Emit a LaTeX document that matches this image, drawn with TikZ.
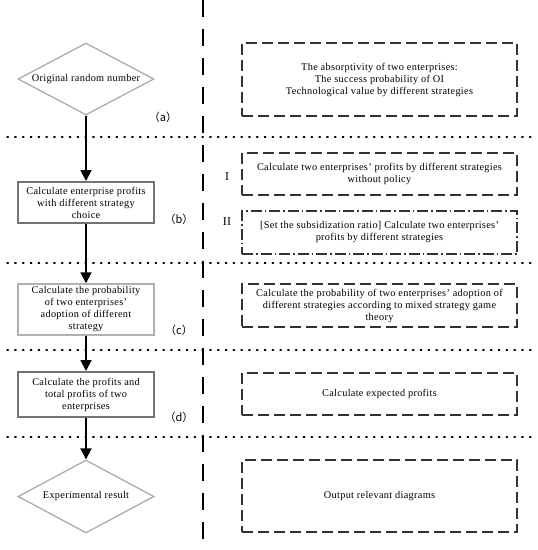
\documentclass[tikz,border=0pt]{standalone}
\usepackage{fontspec}
\setmainfont{Liberation Serif}[LetterSpace=3]
\newfontfamily\cjkf{Noto Sans CJK SC}
\usetikzlibrary{shapes.geometric,arrows.meta}
\tikzset{
  diam/.style={diamond, draw=gray!65, line width=1.3pt, minimum width=136, minimum height=72, aspect=1.9, inner sep=0pt, align=center},
  thickbox/.style={rectangle, draw=black!55, line width=2pt, minimum width=136, inner sep=1pt, align=center},
  thinbox/.style={rectangle, draw=gray!60, line width=1.5pt, minimum width=136, inner sep=1pt, align=center},
  rbox/.style={rectangle, draw=black!80, line width=1.1pt, dash pattern=on 11pt off 5pt, minimum width=275, inner sep=1pt, align=center},
  rboxdd/.style={rectangle, draw=black!80, line width=1.1pt, dash pattern=on 11pt off 3pt on 1.5pt off 3pt, minimum width=275, inner sep=1pt, align=center},
  sep/.style={line width=1.3pt, dash pattern=on 1.3pt off 6.5pt, line cap=round},
  vsep/.style={line width=1.6pt, dash pattern=on 17pt off 12pt},
  flow/.style={line width=1.8pt, -{Triangle[width=11pt,length=11pt]}},
  lab/.style={font=\cjkf\fontsize{11}{12}\selectfont, inner sep=0pt},
  roman/.style={font=\fontsize{12}{14}\selectfont, inner sep=0pt}
}
\begin{document}
\begin{tikzpicture}[x=1pt,y=-1pt,font=\fontsize{10.3}{12}\selectfont]
\useasboundingbox (0,0) rectangle (538,550);

% separators
\coordinate (v1) at (203,0);
\coordinate (v2) at (203,545);
\draw[vsep] (v1) -- (v2);
\foreach \yy/\nm in {137/s1,263/s2,350/s3,437/s4}{
  \coordinate (\nm l) at (7,\yy);
  \coordinate (\nm r) at (533,\yy);
  \draw[sep] (\nm l) -- (\nm r);
}

% left flow
\node[diam] (n1) at (86,79) {Original random number};
\node[thickbox, minimum height=41] (n2) at (86,202.5) {Calculate enterprise profits\\with different strategy\\choice};
\node[thinbox, minimum height=51] (n3) at (86,309.5) {Calculate the probability\\of two enterprises'\\adoption of different\\strategy};
\node[thickbox, minimum height=45] (n4) at (86,394.5) {Calculate the profits and\\total profits of two\\enterprises};
\node[diam, minimum height=73] (n5) at (86,496.5) {Experimental result};

\draw[flow] (n1.south) -- (n2.north);
\draw[flow] (n2.south) -- (n3.north);
\draw[flow] (n3.south) -- (n4.north);
\draw[flow] (n4.south) -- (n5.north);

% labels
\node[lab] (la) at (163,117) {（a）};
\node[lab] (lb) at (179,219) {（b）};
\node[lab] (lc) at (179,330) {（c）};
\node[lab] (ld) at (179,417) {（d）};
\node[roman] (r1) at (227,177) {I};
\node[roman] (r2) at (227,222) {II};

% right boxes
\node[rbox, minimum height=73] (b1) at (379.5,79.5) {The absorptivity of two enterprises:\\The success probability of OI\\Technological value by different strategies};
\node[rbox, minimum height=42] (b2) at (379.5,174) {Calculate two enterprises' profits by different strategies\\without policy};
\node[rboxdd, minimum height=43] (b3) at (379.5,232.5) {[Set the subsidization ratio] Calculate two enterprises'\\profits by different strategies};
\node[rbox, minimum height=43] (b4) at (379.5,305.5) {Calculate the probability of two enterprises' adoption of\\different strategies according to mixed strategy game\\theory};
\node[rbox, minimum height=42] (b5) at (379.5,394) {Calculate expected profits};
\node[rbox, minimum height=72] (b6) at (379.5,496) {Output relevant diagrams};
\end{tikzpicture}
\end{document}
